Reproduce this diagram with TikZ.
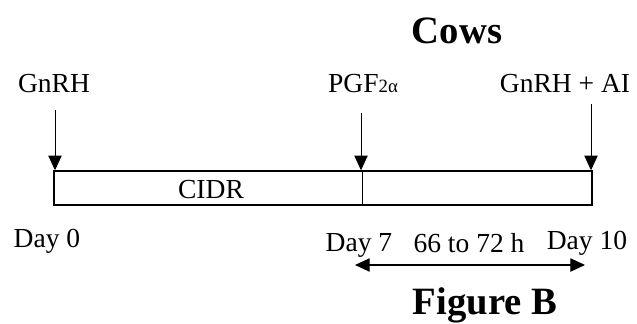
\documentclass[tikz,border=0pt]{standalone}
\usepackage{fontspec}
\setmainfont{Liberation Serif}
\usetikzlibrary{arrows.meta}
\tikzstyle{block} = [draw, rectangle, line width=1.2pt,
    minimum height=1.02cm, minimum width=16.14cm, inner sep=0pt]
\tikzstyle{drug} = [anchor=base, inner sep=0pt, font=\fontsize{23.5}{28}\selectfont]
\tikzstyle{day} = [drug]
\tikzstyle{heading} = [anchor=base, inner sep=0pt, font=\fontsize{33}{40}\selectfont\bfseries]

\begin{document}
\begin{tikzpicture}[>={Triangle[length=4.4mm,width=4mm]}]
\useasboundingbox (0,0) rectangle (19.11,9.69);

    % the CIDR bar
    \node [block] (bar) at (9.69,4.05) {};
    \node [drug] (cidr) at (6.33,3.75) {CIDR};
    \coordinate (d7) at (10.86,4.56);
    \draw [line width=0.6pt] (d7) -- (d7 |- bar.south);

    % injections
    \node [heading] (cows) at (13.71,8.4) {Cows};
    \node [drug] (gnrh) at (1.62,6.93) {GnRH};
    \node [drug] (pgf) at (10.89,6.93) {PGF\raisebox{-0.6pt}{\fontsize{16}{18}\selectfont 2α}};
    \node [drug] (gnrhai) at (16.95,6.93) {GnRH + AI};
    \coordinate (a0) at (1.65,6.39);
    \coordinate (a7) at (10.83,6.3);
    \coordinate (a10) at (17.73,6.57);
    \draw [->, line width=0.8pt] (a0) -- (a0 |- bar.north);
    \draw [->, line width=0.8pt] (a7) -- (a7 |- bar.north);
    \draw [->, line width=0.8pt] (a10) -- (a10 |- bar.north);

    % days
    \node [day] (day0) at (1.41,2.28) {Day 0};
    \node [day] (day7) at (10.77,2.16) {Day 7};
    \node [day] (day10) at (17.61,2.22) {Day 10};
    \node [day] (hours) at (14.07,2.13) {66 to 72 h};
    \coordinate (h0) at (10.65,1.74);
    \coordinate (h1) at (17.55,1.74);
    \draw [<->, line width=1pt] (h0) -- (h1);

    \node [heading] (fig) at (14.55,0.27) {Figure B};

\end{tikzpicture}
\end{document}
